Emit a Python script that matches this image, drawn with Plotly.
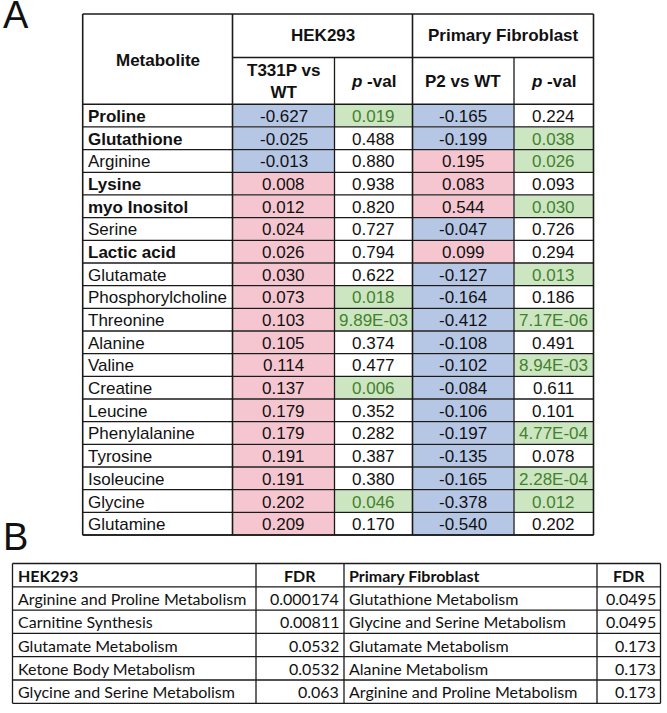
import plotly.graph_objects as go

# ---------------- DATA ----------------
metabolites = ["Proline", "Glutathione", "Arginine", "Lysine", "myo Inositol", "Serine",
               "Lactic acid", "Glutamate", "Phosphorylcholine", "Threonine", "Alanine",
               "Valine", "Creatine", "Leucine", "Phenylalanine", "Tyrosine", "Isoleucine",
               "Glycine", "Glutamine"]
bold_names = ["Proline", "Glutathione", "Lysine", "myo Inositol", "Lactic acid"]
hek_fc = ["-0.627", "-0.025", "-0.013", "0.008", "0.012", "0.024", "0.026", "0.030", "0.073",
          "0.103", "0.105", "0.114", "0.137", "0.179", "0.179", "0.191", "0.191", "0.202", "0.209"]
hek_p = ["0.019", "0.488", "0.880", "0.938", "0.820", "0.727", "0.794", "0.622", "0.018",
         "9.89E-03", "0.374", "0.477", "0.006", "0.352", "0.282", "0.387", "0.380", "0.046", "0.170"]
fib_fc = ["-0.165", "-0.199", "0.195", "0.083", "0.544", "-0.047", "0.099", "-0.127", "-0.164",
          "-0.412", "-0.108", "-0.102", "-0.084", "-0.106", "-0.197", "-0.135", "-0.165", "-0.378", "-0.540"]
fib_p = ["0.224", "0.038", "0.026", "0.093", "0.030", "0.726", "0.294", "0.013", "0.186",
         "7.17E-06", "0.491", "8.94E-03", "0.611", "0.101", "4.77E-04", "0.078", "2.28E-04", "0.012", "0.202"]

hek_pathways = ["Arginine and Proline Metabolism", "Carnitine Synthesis", "Glutamate Metabolism",
                "Ketone Body Metabolism", "Glycine and Serine Metabolism"]
hek_fdr = ["0.000174", "0.00811", "0.0532", "0.0532", "0.063"]
fib_pathways = ["Glutathione Metabolism", "Glycine and Serine Metabolism", "Glutamate Metabolism",
                "Alanine Metabolism", "Arginine and Proline Metabolism"]
fib_fdr = ["0.0495", "0.0495", "0.173", "0.173", "0.173"]

# ---------------- STYLE / LAYOUT ----------------
W, H = 667, 713
BLUE = "#b6c7e6"
PINK = "#f5c6d0"
GREEN_FILL = "#cde6c2"
GREEN_TXT = "#44802f"
TXT = "#111111"
LINE = "#1a1a1a"
FONT_A = "Liberation Sans, Arial, sans-serif"
FONT_B = "Lato, sans-serif"

shapes = []
annotations = []


def rect(x0, y0, x1, y1, fill):
    shapes.append(dict(type="rect", xref="x", yref="y", x0=x0, x1=x1, y0=y0, y1=y1,
                       fillcolor=fill, line=dict(width=0), layer="below"))


def line(x0, y0, x1, y1, w=1.3):
    shapes.append(dict(type="line", xref="x", yref="y", x0=x0, x1=x1, y0=y0, y1=y1,
                       line=dict(color=LINE, width=w)))


def text(x, y, s, size, font=FONT_A, color=TXT, anchor="center"):
    annotations.append(dict(x=x, y=y, xref="x", yref="y", text=s, showarrow=False,
                            xanchor=anchor, yanchor="middle",
                            font=dict(family=font, size=size, color=color)))


# ---- Panel A ----
ax = [82.7, 232.5, 334.5, 412.5, 514.0, 593.5]   # column borders
a_top, a_h1, a_h2 = 14.0, 57.5, 104.3
a_bot = 535.0
n = len(metabolites)
rh = (a_bot - a_h2) / n
FS_A = 17

for i in range(n):
    y0 = a_h2 + i * rh
    y1 = y0 + rh
    yc = (y0 + y1) / 2
    # fold-change cells coloured by sign
    for ci, vals in ((1, hek_fc), (3, fib_fc)):
        rect(ax[ci] + 0.5, y0 + 0.5, ax[ci + 1] - 0.5, y1 - 0.5,
             BLUE if float(vals[i]) < 0 else PINK)
        text((ax[ci] + ax[ci + 1]) / 2, yc + 1, vals[i], FS_A)
    # p-values, green if significant
    for ci, vals in ((2, hek_p), (4, fib_p)):
        sig = float(vals[i]) < 0.05
        if sig:
            rect(ax[ci] + 0.5, y0 + 0.5, ax[ci + 1] - 0.5, y1 - 0.5, GREEN_FILL)
        text((ax[ci] + ax[ci + 1]) / 2, yc + 1, vals[i], FS_A,
             color=GREEN_TXT if sig else TXT)
    name = metabolites[i]
    text(ax[0] + 3, yc + 1, f"<b>{name}</b>" if name in bold_names else name, FS_A, anchor="left")
    line(ax[0], y1, ax[-1], y1)

# header
text((ax[0] + ax[1]) / 2, (a_top + a_h2) / 2 + 1, "<b>Metabolite</b>", FS_A)
text((ax[1] + ax[3]) / 2, (a_top + a_h1) / 2, "<b>HEK293</b>", FS_A)
text((ax[3] + ax[5]) / 2, (a_top + a_h1) / 2, "<b>Primary Fibroblast</b>", FS_A)
sub = ["<b>T331P vs<br>WT</b>", "<b><i>p</i> -val</b>", "<b>P2 vs WT</b>", "<b><i>p</i> -val</b>"]
for k, s in enumerate(sub):
    text((ax[k + 1] + ax[k + 2]) / 2, (a_h1 + a_h2) / 2 + 1, s, FS_A)

line(ax[0], a_top, ax[-1], a_top, 1.6)
line(ax[1], a_h1, ax[-1], a_h1, 1.6)
line(ax[0], a_h2, ax[-1], a_h2, 1.6)
line(ax[0], a_bot, ax[-1], a_bot, 1.6)
for k, xv in enumerate(ax):
    ys = a_top if k in (0, 1, 3, 5) else a_h1
    line(xv, ys, xv, a_bot, 1.6 if k in (0, 1, 3, 5) else 1.3)

text(1, 15, "A", 38, anchor="left")

# ---- Panel B ----
bx = [12.5, 256.0, 344.0, 597.0, 660.5]
b_top = 563.5
brh = 23.3
FS_B = 16
nb = len(hek_pathways)
b_bot = b_top + brh * (nb + 1)

yc = b_top + brh / 2
text(bx[0] + 3, yc, "<b>HEK293</b>", FS_B, FONT_B, anchor="left")
text((bx[1] + bx[2]) / 2, yc, "<b>FDR</b>", FS_B, FONT_B)
text(bx[2] + 3, yc, "<b>Primary Fibroblast</b>", FS_B, FONT_B, anchor="left")
text((bx[3] + bx[4]) / 2, yc, "<b>FDR</b>", FS_B, FONT_B)
for i in range(nb):
    y0 = b_top + brh * (i + 1)
    yc = y0 + brh / 2
    text(bx[0] + 3, yc, hek_pathways[i], FS_B, FONT_B, anchor="left")
    text(bx[2] - 3, yc, hek_fdr[i], FS_B, FONT_B, anchor="right")
    text(bx[2] + 3, yc, fib_pathways[i], FS_B, FONT_B, anchor="left")
    text(bx[4] - 3, yc, fib_fdr[i], FS_B, FONT_B, anchor="right")
for i in range(nb + 2):
    yv = b_top + brh * i
    line(bx[0], yv, bx[-1], yv)
for xv in bx:
    line(xv, b_top, xv, b_bot)

text(1, 537, "B", 38, anchor="left")

fig = go.Figure()
fig.add_trace(go.Scatter(x=[0, W], y=[0, H], mode="markers", marker=dict(opacity=0),
                         hoverinfo="skip", showlegend=False))
fig.update_layout(
    width=W, height=H, margin=dict(l=0, r=0, t=0, b=0),
    paper_bgcolor="white", plot_bgcolor="white",
    xaxis=dict(range=[0, W], visible=False, fixedrange=True),
    yaxis=dict(range=[H, 0], visible=False, fixedrange=True),
    shapes=shapes, annotations=annotations, showlegend=False,
)
fig.write_html("out.html",
               config={"displayModeBar": False, "staticPlot": True},
               post_script="document.body.style.margin='0';document.body.style.overflow='hidden';")
